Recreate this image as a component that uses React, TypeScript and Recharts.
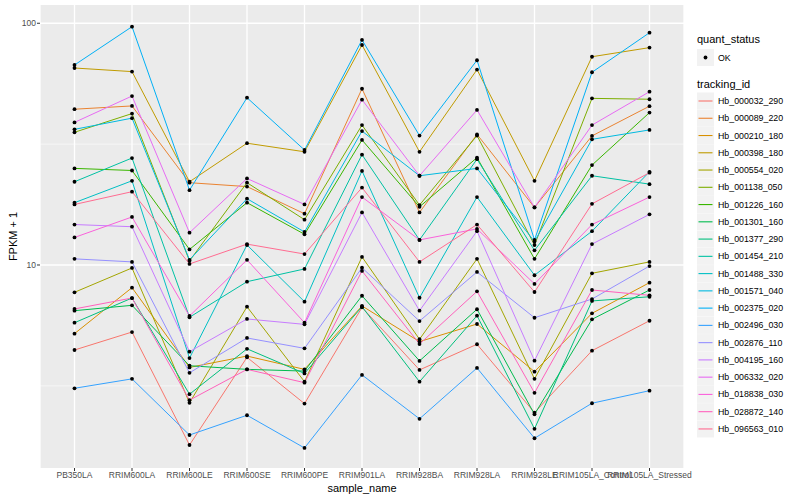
import { LineChart, Line, XAxis, YAxis, CartesianGrid } from "recharts";

const FONT = "'Liberation Sans', Arial, Helvetica, sans-serif";

const sampleNames = [
  "PB350LA",
  "RRIM600LA",
  "RRIM600LE",
  "RRIM600SE",
  "RRIM600PE",
  "RRIM901LA",
  "RRIM928BA",
  "RRIM928LA",
  "RRIM928LE",
  "RRIM105LA_Control",
  "RRIM105LA_Stressed",
];

const trackingIds = [
  "Hb_000032_290",
  "Hb_000089_220",
  "Hb_000210_180",
  "Hb_000398_180",
  "Hb_000554_020",
  "Hb_001138_050",
  "Hb_001226_160",
  "Hb_001301_160",
  "Hb_001377_290",
  "Hb_001454_210",
  "Hb_001488_330",
  "Hb_001571_040",
  "Hb_002375_020",
  "Hb_002496_030",
  "Hb_002876_110",
  "Hb_004195_160",
  "Hb_006332_020",
  "Hb_018838_030",
  "Hb_028872_140",
  "Hb_096563_010",
];

// FPKM + 1, one value per sample (same order as sampleNames)
const hb_000032_290 = [4.45, 5.28, 1.8, 4.15, 2.67, 6.68, 3.68, 4.7, 2.45, 4.42, 5.88];
const hb_000089_220 = [44.1, 45.5, 21.9, 21.1, 16.3, 53.6, 16.5, 34.7, 17.3, 34.2, 45.4];
const hb_000210_180 = [5.2, 8.06, 3.77, 4.2, 3.7, 6.77, 4.82, 5.7, 3.62, 6.31, 8.45];
const hb_000398_180 = [65.3, 63.1, 22.1, 31.9, 29.4, 81.3, 29.4, 64.3, 22.3, 72.7, 79.3];
const hb_000554_020 = [7.71, 9.72, 2.69, 6.72, 3.29, 10.8, 4.93, 10.6, 3.38, 9.24, 10.3];
const hb_001138_050 = [35.4, 42.3, 10.4, 21.9, 15.4, 37.9, 17.7, 34.3, 12.1, 48.9, 48.5];
const hb_001226_160 = [25.1, 24.6, 11.6, 18.1, 13.4, 32.9, 17.4, 27.8, 10.6, 25.9, 42.7];
const hb_001301_160 = [6.47, 6.81, 3.83, 3.7, 3.64, 7.46, 4.01, 6.56, 2.41, 5.96, 7.88];
const hb_001377_290 = [5.77, 7.3, 2.92, 4.5, 3.56, 6.72, 3.29, 6.17, 2.1, 7.1, 7.39];
const hb_001454_210 = [22.1, 27.7, 6.08, 8.53, 9.63, 28.6, 12.7, 27.4, 11.5, 23.4, 21.6];
const hb_001488_330 = [18.1, 22.3, 4.12, 12.1, 7.05, 24.5, 7.32, 19.1, 9.07, 13.8, 24.3];
const hb_001571_040 = [36.4, 40.5, 10.5, 18.8, 13.7, 35.8, 23.4, 25.1, 12.5, 33.1, 36.2];
const hb_002375_020 = [67.2, 96.8, 20.4, 49.2, 29.9, 85.3, 34.3, 70.3, 12.7, 62.7, 91.4];
const hb_002496_030 = [3.09, 3.38, 1.98, 2.39, 1.75, 3.51, 2.31, 3.75, 1.92, 2.68, 3.02];
const hb_002876_110 = [10.6, 10.3, 3.58, 4.99, 4.52, 9.74, 5.86, 9.36, 6.05, 7.23, 9.9];
const hb_004195_160 = [14.7, 14.4, 4.38, 5.98, 5.68, 16.5, 6.47, 13.8, 4.02, 12.2, 16.2];
const hb_006332_020 = [38.9, 50.0, 13.6, 22.8, 17.8, 48.3, 23.4, 43.8, 17.3, 37.9, 52.1];
const hb_018838_030 = [13.0, 15.8, 6.15, 10.5, 5.77, 19.1, 12.7, 14.1, 8.35, 14.7, 19.1];
const hb_028872_140 = [6.58, 7.3, 2.76, 3.7, 3.26, 9.45, 4.71, 7.78, 2.96, 7.88, 7.49];
const hb_096563_010 = [17.8, 20.1, 10.1, 12.2, 11.1, 20.9, 10.3, 14.7, 7.73, 17.9, 24.1];

const geneValues = [
  hb_000032_290, hb_000089_220, hb_000210_180, hb_000398_180, hb_000554_020,
  hb_001138_050, hb_001226_160, hb_001301_160, hb_001377_290, hb_001454_210,
  hb_001488_330, hb_001571_040, hb_002375_020, hb_002496_030, hb_002876_110,
  hb_004195_160, hb_006332_020, hb_018838_030, hb_028872_140, hb_096563_010,
];

// ggplot2 default hue palette, 20 levels
const palette = [
  "#F8766D", "#EA8331", "#D89000", "#C09B00", "#A3A500",
  "#7CAE00", "#39B600", "#00BB4E", "#00BF7D", "#00C1A3",
  "#00BFC4", "#00BAE0", "#00B0F6", "#35A2FF", "#9590FF",
  "#C77CFF", "#E76BF3", "#FA62DB", "#FF62BC", "#FF6C91",
];

const majorTicks = [10, 100];
const minorTicks = [3.162, 31.62];

const rows = sampleNames.map((name, i) => {
  const row: Record<string, string | number> = { sample_name: name };
  trackingIds.forEach((id, j) => {
    row[id] = geneValues[j][i];
  });
  return row;
});

function LegendBox() {
  const top = 101;
  const step = 17.26;
  return (
    <svg
      width={800}
      height={500}
      style={{ position: "absolute", left: 0, top: 0, pointerEvents: "none" }}
      fontFamily={FONT}
    >
      <text x={362} y={492} fontSize={11} textAnchor="middle" fill="#000">
        sample_name
      </text>
      <text
        x={17}
        y={236.5}
        fontSize={11}
        textAnchor="middle"
        fill="#000"
        transform="rotate(-90, 17, 236.5)"
      >
        FPKM + 1
      </text>

      <text x={697} y={43} fontSize={11} fill="#000">quant_status</text>
      <rect x={697} y={49} width={17} height={17} fill="#F2F2F2" />
      <circle cx={705.5} cy={57.5} r={1.9} fill="#000" />
      <text x={718} y={60.5} fontSize={8.8} fill="#000">OK</text>

      <text x={697} y={88} fontSize={11} fill="#000">tracking_id</text>
      {trackingIds.map((id, i) => {
        const cy = top + i * step;
        return (
          <g key={id}>
            <rect x={697} y={cy - 8.5} width={17} height={17} fill="#F2F2F2" />
            <line x1={698.5} x2={712.5} y1={cy} y2={cy} stroke={palette[i]} strokeWidth={1.1} />
            <text x={718} y={cy + 3} fontSize={8.8} fill="#000">{id}</text>
          </g>
        );
      })}
    </svg>
  );
}

export default function App() {
  return (
    <div style={{ position: "absolute", left: 0, top: 0, width: 800, height: 500, background: "#fff" }}>
      <LineChart
        width={800}
        height={500}
        data={rows}
        margin={{ top: 5, right: 116, bottom: 0, left: 0 }}
      >
        <CartesianGrid
          fill="#EBEBEB"
          stroke="#FFFFFF"
          strokeWidth={1.3}
          horizontalValues={majorTicks}
        />
        <CartesianGrid
          stroke="#FFFFFF"
          strokeWidth={0.6}
          vertical={false}
          horizontalValues={minorTicks}
        />
        <XAxis
          dataKey="sample_name"
          interval={0}
          height={32}
          padding={{ left: 34.5, right: 34.5 }}
          axisLine={false}
          tickSize={3}
          tickMargin={1}
          tickLine={{ stroke: "#333333" }}
          tick={{ fontSize: 8.5, fill: "#4D4D4D", fontFamily: FONT }}
        />
        <YAxis
          type="number"
          scale="log"
          domain={[1.446, 119]}
          allowDataOverflow
          ticks={majorTicks}
          width={40}
          axisLine={false}
          tickSize={3}
          tickMargin={1}
          tickLine={{ stroke: "#333333" }}
          tick={{ fontSize: 8.5, fill: "#4D4D4D", fontFamily: FONT }}
        />
        {trackingIds.map((id, i) => (
          <Line
            key={id}
            type="linear"
            dataKey={id}
            stroke={palette[i]}
            strokeWidth={1}
            dot={{ r: 1.9, fill: "#000", stroke: "none" }}
            activeDot={false}
            isAnimationActive={false}
          />
        ))}
      </LineChart>
      <LegendBox />
    </div>
  );
}
